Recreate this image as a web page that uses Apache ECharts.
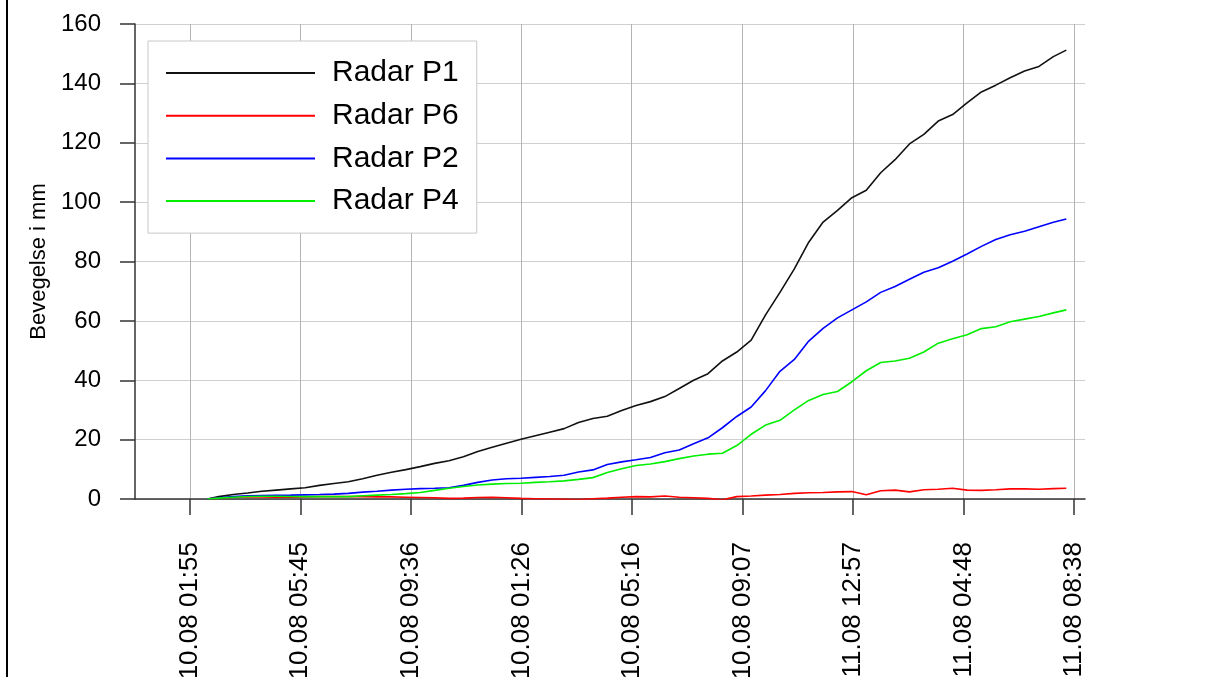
<!DOCTYPE html>
<html>
<head>
<meta charset="utf-8">
<script src="https://cdn.jsdelivr.net/npm/echarts@6/dist/echarts.min.js"></script>
<style>
  html, body { margin: 0; padding: 0; background: #fff; }
  #main { width: 1231px; height: 677px; }
  .frame { position: absolute; left: 6px; top: 0; height: 677px; border-left: 2px solid #000; }
</style>
</head>
<body>
<div id="main"></div>
<div class="frame"></div>
<script>
// tick labels (dd.mm hh:mm) and their position in hours after the first one
var tickLabels = ['10.08 01:55', '10.08 05:45', '10.08 09:36', '10.08 01:26', '10.08 05:16',
  '10.08 09:07', '11.08 12:57', '11.08 04:48', '11.08 08:38'];
var tickHours = [0, 3.833, 7.683, 11.517, 15.35, 19.2, 23.033, 26.883, 30.717];

// sample times, hours after 10.08 01:55
var hours = [0.6, 1, 1.5, 2, 2.5, 3, 3.5, 4, 4.5, 5, 5.5, 6, 6.5, 7, 7.5, 8, 8.5, 9, 9.5, 10,
  10.5, 11, 11.5, 12, 12.5, 13, 13.5, 14, 14.5, 15, 15.5, 16, 16.5, 17, 17.5, 18, 18.5, 19,
  19.5, 20, 20.5, 21, 21.5, 22, 22.5, 23, 23.5, 24, 24.5, 25, 25.5, 26, 26.5, 27, 27.5, 28,
  28.5, 29, 29.5, 30, 30.45];

// movement in mm
var radarP1 = [0, 0.8, 1.5, 2.0, 2.6, 3.0, 3.4, 3.8, 4.6, 5.2, 5.8, 6.8, 8.0, 9.0, 9.9, 10.9,
  12.0, 12.9, 14.2, 16.0, 17.4, 18.8, 20.1, 21.3, 22.5, 23.7, 25.8, 27.1, 27.9, 29.8, 31.5,
  32.8, 34.5, 37.2, 40.0, 42.2, 46.5, 49.5, 53.5, 62, 69.6, 77.5, 86.5, 93.3, 97.2, 101.5,
  104.0, 109.9, 114.3, 119.6, 122.8, 127.3, 129.5, 133.4, 137.1, 139.4, 141.9, 144.2, 145.7,
  149.0, 151.2];
var radarP6 = [0, 0.3, 0.6, 0.8, 0.7, 0.6, 0.6, 0.7, 0.8, 0.8, 0.8, 0.8, 0.7, 0.7, 0.6, 0.5,
  0.4, 0.2, 0.3, 0.5, 0.6, 0.4, 0.2, 0.1, 0.0, -0.1, -0.2, 0.1, 0.3, 0.6, 0.8, 0.7, 1.0, 0.6,
  0.4, 0.2, -0.3, 0.8, 1.0, 1.3, 1.5, 1.9, 2.1, 2.2, 2.4, 2.5, 1.4, 2.8, 3.0, 2.4, 3.1, 3.3,
  3.6, 3.0, 2.9, 3.1, 3.4, 3.4, 3.3, 3.5, 3.6];
var radarP2 = [0, 0.4, 0.8, 1.1, 1.2, 1.25, 1.3, 1.4, 1.5, 1.65, 1.9, 2.3, 2.6, 3.0, 3.3, 3.5,
  3.6, 3.8, 4.6, 5.6, 6.4, 6.8, 7.0, 7.3, 7.6, 8.0, 9.1, 9.8, 11.6, 12.5, 13.2, 14.0, 15.6,
  16.5, 18.6, 20.6, 24.0, 27.8, 31.0, 36.5, 43.0, 47.0, 53.2, 57.5, 61.0, 63.7, 66.4, 69.6,
  71.6, 74.0, 76.4, 77.9, 80.1, 82.5, 85.1, 87.4, 89.0, 90.2, 91.7, 93.2, 94.3];
var radarP4 = [0, 0.3, 0.6, 0.85, 0.95, 0.95, 0.85, 0.8, 0.8, 0.8, 0.8, 1.1, 1.3, 1.5, 1.8, 2.2,
  2.9, 3.6, 4.2, 4.7, 5.0, 5.2, 5.3, 5.6, 5.8, 6.1, 6.6, 7.2, 8.9, 10.2, 11.3, 11.8, 12.6,
  13.6, 14.5, 15.1, 15.4, 18.0, 21.8, 24.9, 26.5, 30.0, 33.2, 35.2, 36.2, 39.5, 43.2, 46.0,
  46.5, 47.4, 49.5, 52.5, 54.0, 55.3, 57.4, 58.0, 59.7, 60.6, 61.5, 62.7, 63.7];

var seriesNames = ['Radar P1', 'Radar P6', 'Radar P2', 'Radar P4'];
var seriesColors = ['#111111', '#ff0000', '#0000ff', '#00ee00'];
var seriesValues = [radarP1, radarP6, radarP2, radarP4];

function pairs(vals) {
  return hours.map(function (h, i) { return [h, vals[i]]; });
}

function labelFor(v) {
  var best = 0;
  for (var i = 1; i < tickHours.length; i++) {
    if (Math.abs(tickHours[i] - v) < Math.abs(tickHours[best] - v)) best = i;
  }
  return tickLabels[best];
}

var chart = echarts.init(document.getElementById('main'));
var font = 'Liberation Sans, Arial, sans-serif';

chart.setOption({
  animation: false,
  backgroundColor: '#fff',
  grid: { left: 135, right: 146, top: 24, bottom: 178, containLabel: false, outerBoundsMode: 'none' },
  legend: {
    orient: 'vertical',
    left: 148,
    top: 41,
    padding: [17, 18, 17, 17],
    itemWidth: 149,
    itemHeight: 20,
    itemGap: 12.7,
    itemStyle: { opacity: 0 },
    backgroundColor: '#fff',
    borderColor: '#c8c8c8',
    borderWidth: 1,
    borderRadius: 0,
    textStyle: {
      fontFamily: font,
      fontSize: 30,
      lineHeight: 30,
      color: '#000',
      padding: [0, 0, 0, 12]
    },
    data: seriesNames
  },
  xAxis: {
    type: 'value',
    min: -1.911,
    max: 31.1,
    axisLine: { lineStyle: { color: '#333', width: 1.5 } },
    axisTick: { length: 16, customValues: tickHours, lineStyle: { color: '#333', width: 1.5 } },
    axisLabel: {
      customValues: tickHours,
      rotate: 90,
      margin: 43,
      fontFamily: font,
      fontSize: 26,
      color: '#000',
      formatter: labelFor
    },
    splitLine: { show: true, lineStyle: { color: '#b4b4b4', width: 1 } }
  },
  yAxis: {
    type: 'value',
    min: 0,
    max: 160,
    interval: 20,
    name: 'Bevegelse i mm',
    nameLocation: 'middle',
    nameRotate: 90,
    nameGap: 82,
    nameTextStyle: { fontFamily: font, fontSize: 22, color: '#000' },
    axisLine: { show: true, onZero: false, lineStyle: { color: '#333', width: 1.5 } },
    axisTick: { show: true, length: 15, lineStyle: { color: '#333', width: 1.5 } },
    axisLabel: { margin: 34, fontFamily: font, fontSize: 24, color: '#000' },
    splitLine: { show: true, lineStyle: { color: '#cfcfcf', width: 1 } }
  },
  series: seriesNames.map(function (name, i) {
    return {
      name: name,
      type: 'line',
      symbol: 'none',
      color: seriesColors[i],
      lineStyle: { width: 1.6, color: seriesColors[i] },
      data: pairs(seriesValues[i])
    };
  })
});
</script>
</body>
</html>
